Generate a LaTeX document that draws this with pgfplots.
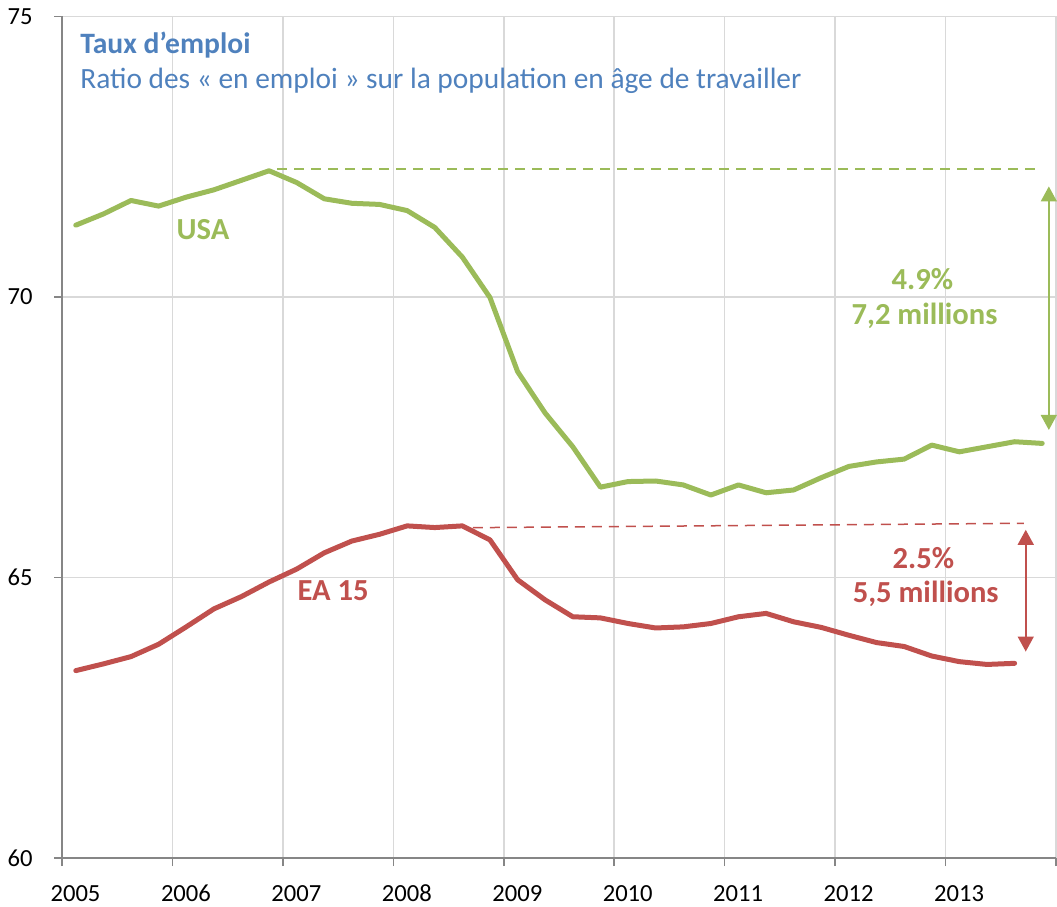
\documentclass[border=0pt]{standalone}
\usepackage{fontspec}
\setmainfont{Carlito}
\usepackage{pgfplots}
\usepackage{pgfplotstable}
\pgfplotsset{compat=1.18}
\usetikzlibrary{calc,arrows.meta}
\definecolor{usag}{HTML}{9BBB59}
\definecolor{ear}{HTML}{C0504D}
\definecolor{ttl}{HTML}{4F81BD}
\definecolor{gridc}{HTML}{D9D9D9}
\definecolor{axc}{HTML}{868686}

\pgfplotstableread{
x y
2005.125 71.28
2005.375 71.48
2005.625 71.72
2005.875 71.62
2006.125 71.78
2006.375 71.91
2006.625 72.08
2006.875 72.25
2007.125 72.04
2007.375 71.75
2007.625 71.67
2007.875 71.65
2008.125 71.54
2008.375 71.24
2008.625 70.71
2008.875 69.99
2009.125 68.67
2009.375 67.93
2009.625 67.33
2009.875 66.61
2010.125 66.71
2010.375 66.72
2010.625 66.65
2010.875 66.47
2011.125 66.65
2011.375 66.51
2011.625 66.56
2011.875 66.78
2012.125 66.98
2012.375 67.06
2012.625 67.11
2012.875 67.36
2013.125 67.24
2013.375 67.33
2013.625 67.42
2013.875 67.39
}\usa

\pgfplotstableread{
x y
2005.125 63.34
2005.375 63.46
2005.625 63.59
2005.875 63.81
2006.125 64.12
2006.375 64.44
2006.625 64.66
2006.875 64.92
2007.125 65.15
2007.375 65.44
2007.625 65.65
2007.875 65.77
2008.125 65.92
2008.375 65.89
2008.625 65.92
2008.875 65.67
2009.125 64.96
2009.375 64.60
2009.625 64.30
2009.875 64.28
2010.125 64.18
2010.375 64.10
2010.625 64.12
2010.875 64.18
2011.125 64.30
2011.375 64.36
2011.625 64.21
2011.875 64.11
2012.125 63.97
2012.375 63.84
2012.625 63.77
2012.875 63.60
2013.125 63.50
2013.375 63.45
2013.625 63.47
}\eaq

\begin{document}
\begin{tikzpicture}
\begin{axis}[name=ax, at={(0,0)}, anchor=south west,
  width=497pt, height=420.75pt, scale only axis,
  xmin=2005, xmax=2014, ymin=60, ymax=75,
  xtick={2005,2006,2007,2008,2009,2010,2011,2012,2013,2014},
  xticklabels={2005,2006,2007,2008,2009,2010,2011,2012,2013,{}},
  ytick={60,65,70,75},
  yticklabels={60,65,70,75},
  /pgf/number format/assume math mode=true,
  axis x line=bottom, axis y line=left,
  axis line style={axc, line width=0.75pt, -},
  grid=major, major grid style={gridc, line width=0.75pt},
  tick align=outside, major tick length=4pt,
  tick style={axc, line width=0.75pt},
  ticklabel style={font=\fontsize{12.3}{14}\selectfont, text=black, inner sep=0pt},
  xticklabel style={anchor=base, xshift=6.75pt},
  xticklabel shift=17.85pt,
  yticklabel style={anchor=east},
  yticklabel shift=10.5pt,
  clip=false]

\addplot[usag, line width=0.75pt, dash pattern=on 5pt off 3.5pt] coordinates {(2006.947,72.28) (2013.871,72.28)};
\addplot[ear, line width=0.75pt, dash pattern=on 5pt off 3.5pt] coordinates {(2008.72,65.888) (2013.71,65.966)};

\addplot[usag, line width=2.5pt, line join=round, line cap=round] table[x=x,y=y] {\usa};
\addplot[ear, line width=2.5pt, line join=round, line cap=round] table[x=x,y=y] {\eaq};

\addplot[usag, line width=0.75pt, {Triangle[width=8pt,length=7.5pt]}-{Triangle[width=8pt,length=7.5pt]}] coordinates {(2013.935,71.97) (2013.935,67.63)};
\addplot[ear, line width=0.75pt, {Triangle[width=8pt,length=7.5pt]}-{Triangle[width=8pt,length=7.5pt]}] coordinates {(2013.726,65.85) (2013.726,63.68)};

\node[anchor=base west, text=ttl, font=\bfseries\fontsize{14.8}{17}\selectfont, inner sep=0pt] at (axis cs:2005.163,74.344) {Taux d’emploi};
\node[anchor=base west, text=ttl, font=\fontsize{14.7}{17}\selectfont, inner sep=0pt] at (axis cs:2005.163,73.72) {Ratio des « en emploi » sur la population en âge de travailler};

\node[anchor=base, text=usag, font=\bfseries\fontsize{15.3}{18}\selectfont, inner sep=0pt] at (axis cs:2006.277,71.03) {USA};
\node[anchor=base, text=usag, font=\bfseries\fontsize{15.3}{18}\selectfont, inner sep=0pt] at (axis cs:2012.79,70.125) {4.9\%};
\node[anchor=base, text=usag, font=\bfseries\fontsize{15.3}{18}\selectfont, inner sep=0pt] at (axis cs:2012.81,69.513) {7,2 millions};

\node[anchor=base, text=ear, font=\bfseries\fontsize{15.3}{18}\selectfont, inner sep=0pt] at (axis cs:2007.454,64.587) {EA 15};
\node[anchor=base, text=ear, font=\bfseries\fontsize{15.3}{18}\selectfont, inner sep=0pt] at (axis cs:2012.80,65.164) {2.5\%};
\node[anchor=base, text=ear, font=\bfseries\fontsize{15.3}{18}\selectfont, inner sep=0pt] at (axis cs:2012.82,64.551) {5,5 millions};
\end{axis}
\pgfresetboundingbox
\path ($(ax.south west)+(-31pt,-24.5pt)$) rectangle ($(ax.north east)+(0.5pt,8.25pt)$);
\end{tikzpicture}
\end{document}
